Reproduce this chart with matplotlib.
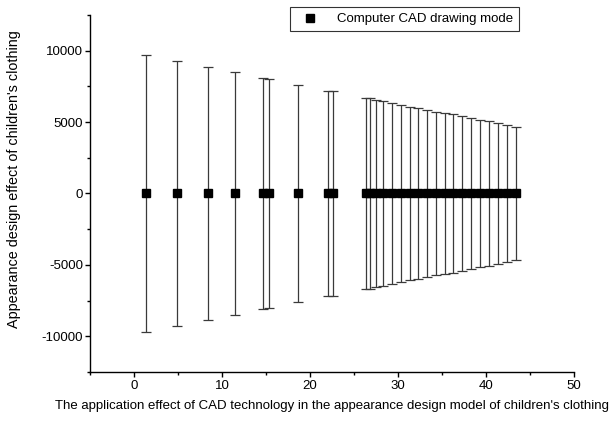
import matplotlib
matplotlib.use('Agg')
import matplotlib.pyplot as plt
from matplotlib.lines import Line2D
from matplotlib.ticker import MultipleLocator

plt.rcParams['font.family'] = ['Liberation Sans', 'DejaVu Sans']
plt.rcParams['axes.unicode_minus'] = False

# positions along x and half-length of the (symmetric) error bars
x_vals = [1.32, 4.91, 8.42, 11.48, 14.68, 15.36, 18.61, 22.0, 22.64,
          26.42, 26.79, 27.47, 28.3, 29.28, 30.3, 31.31, 32.32, 33.33,
          34.32, 35.31, 36.3, 37.3, 38.32, 39.33, 40.32, 41.34, 42.36, 43.41]
y_vals = [0] * len(x_vals)
err_vals = [9700, 9300, 8860, 8480, 8060, 8000, 7620, 7200, 7150,
            6710, 6660, 6560, 6450, 6330, 6210, 6090, 5970, 5860,
            5740, 5640, 5540, 5400, 5280, 5160, 5050, 4930, 4810, 4670]

series_name = 'Computer CAD drawing mode'
x_title = "The application effect of CAD technology in the appearance design model of children's clothing"
y_title = "Appearance design effect of children's clothing"

fig = plt.figure(figsize=(6.1, 4.29), dpi=100)
ax = fig.add_axes([0.1475, 0.133, 0.7935, 0.832])

ax.errorbar(x_vals, y_vals, yerr=err_vals, fmt='s', color='black',
            ecolor='#3a3a3a', elinewidth=0.9, capsize=3.5, capthick=0.9,
            markersize=5.5)

ax.set_xlim(-5, 50)
ax.set_ylim(-12500, 12500)
ax.xaxis.set_major_locator(MultipleLocator(10))
ax.xaxis.set_minor_locator(MultipleLocator(5))
ax.yaxis.set_major_locator(MultipleLocator(5000))
ax.yaxis.set_minor_locator(MultipleLocator(2500))
ax.tick_params(which='major', direction='out', length=3.5, width=1,
               labelsize=9.5, pad=2.5)
ax.tick_params(axis='y', which='major', pad=1.5)
ax.tick_params(which='minor', direction='out', length=2.2, width=1)

for s in ['top', 'right']:
    ax.spines[s].set_visible(False)
for s in ['left', 'bottom']:
    ax.spines[s].set_linewidth(1)

ax.set_xlabel(x_title, fontsize=9.5)
ax.xaxis.set_label_coords(0.5, -0.08)
ax.set_ylabel(y_title, fontsize=10.4)
ax.yaxis.set_label_coords(-0.142, 0.54)

handle = Line2D([], [], linestyle='none', marker='s', color='black',
                markersize=5.5)
leg = ax.legend([handle], [series_name], loc='upper left',
                bbox_to_anchor=(290 / 610, 1 - 7 / 429),
                bbox_transform=fig.transFigure, fontsize=9.5, frameon=True,
                fancybox=False, borderpad=0.45, handletextpad=0.9,
                handlelength=2.2, borderaxespad=0)
leg.get_frame().set_edgecolor('black')
leg.get_frame().set_linewidth(0.8)

fig.savefig('out.png', dpi=100)
